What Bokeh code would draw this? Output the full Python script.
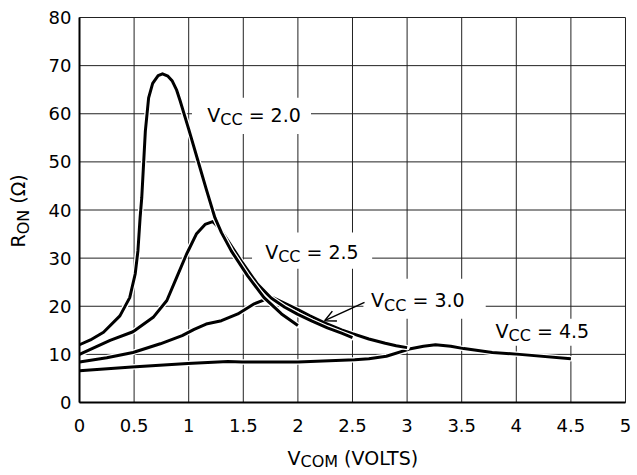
import math
from bokeh.plotting import figure
from bokeh.models import Range1d, FixedTicker, Label, Arrow, OpenHead
from bokeh.embed import file_html
from bokeh.resources import INLINE

# ---- data ----
x_ticks = [0, 0.5, 1, 1.5, 2, 2.5, 3, 3.5, 4, 4.5, 5]
x_tick_labels = ["0", "0.5", "1", "1.5", "2", "2.5", "3", "3.5", "4", "4.5", "5"]
y_ticks = [0, 10, 20, 30, 40, 50, 60, 70, 80]

vcc20_x = [0.0, 0.1, 0.22, 0.37, 0.46, 0.51, 0.535, 0.555, 0.57, 0.603, 0.633, 0.67, 0.72, 0.76,
           0.81, 0.85, 0.89, 0.92, 1.0, 1.08, 1.16, 1.24, 1.30, 1.39, 1.54, 1.69, 1.85, 2.0]
vcc20_y = [12.0, 13.0, 14.6, 18.0, 21.8, 26.7, 31.5, 38.4, 42.5, 56.4, 63.3, 66.3, 67.9, 68.3,
           67.8, 66.8, 64.9, 62.8, 56.8, 50.6, 44.4, 38.4, 35.3, 31.5, 26.3, 21.8, 18.4, 16.0]

vcc25_x = [0.0, 0.28, 0.49, 0.675, 0.80, 0.89, 0.98, 1.07, 1.15, 1.22, 1.29, 1.36, 1.49, 1.63,
           1.755, 1.88, 2.0, 2.13, 2.27, 2.4, 2.5]
vcc25_y = [10.0, 12.9, 14.7, 17.7, 21.2, 26.0, 30.8, 35.0, 37.0, 37.6, 36.0, 33.6, 29.1, 24.6,
           21.7, 19.8, 18.3, 16.9, 15.5, 14.4, 13.5]

vcc30_x = [0.0, 0.25, 0.49, 0.74, 0.94, 1.05, 1.16, 1.30, 1.45, 1.60, 1.72, 1.78, 1.9, 2.0,
           2.11, 2.25, 2.4, 2.5, 2.65, 2.8, 2.9, 3.0]
vcc30_y = [8.4, 9.3, 10.4, 12.2, 13.9, 15.2, 16.3, 17.0, 18.4, 20.5, 21.6, 21.7, 20.4, 19.3,
           18.0, 16.5, 15.1, 14.3, 13.2, 12.3, 11.8, 11.4]

vcc45_x = [0.0, 0.48, 0.99, 1.36, 1.49, 2.0, 2.52, 2.65, 2.81, 3.02, 3.15, 3.26, 3.4, 3.52,
           3.78, 4.03, 4.5]
vcc45_y = [6.6, 7.4, 8.1, 8.5, 8.4, 8.4, 8.9, 9.1, 9.6, 11.1, 11.7, 12.0, 11.7, 11.2,
           10.4, 10.0, 9.1]

series_names = ["2.0", "2.5", "3.0", "4.5"]

FONT = "DejaVu Sans"
MAIN = 19
SUB = 16
BASE_FIX = 7  # label baseline correction (px)
W = {"V": .684, "C": .698, "O": .787, "M": .863, " ": .318, "(": .390, ")": .390,
     "L": .557, "T": .611, "S": .635, "R": .695, "N": .748, "Ω": .764, "=": .838, ".": .318}
for d in "0123456789":
    W[d] = .636


def tw(s, size):
    return sum(W.get(ch, .6) for ch in s) * size


# frame covers the whole canvas so that the axis titles (annotations) are not clipped;
# the axes are fixed at x=0 / y=0 and bounded to the data area.
p = figure(frame_width=631, frame_height=470,
           x_range=Range1d(-0.7051, 5.0733), y_range=Range1d(-14.545, 83.117),
           output_backend="svg", toolbar_location=None,
           min_border_left=2, min_border_right=2, min_border_top=2, min_border_bottom=1)

p.background_fill_color = "white"
p.border_fill_color = "white"
p.outline_line_color = None
p.xgrid.visible = False
p.ygrid.visible = False

for ax in (p.xaxis[0], p.yaxis[0]):
    ax.axis_line_width = 2
    ax.axis_line_color = "black"
    ax.major_tick_in = 0
    ax.major_tick_out = 0
    ax.minor_tick_in = 0
    ax.minor_tick_out = 0
    ax.major_label_text_font = FONT
    ax.major_label_text_font_size = "18px"
    ax.major_label_text_color = "black"
    ax.fixed_location = 0

p.xaxis.bounds = (x_ticks[0], x_ticks[-1])
p.xaxis.ticker = FixedTicker(ticks=x_ticks)
p.xaxis.major_label_overrides = {t: l for t, l in zip(x_ticks, x_tick_labels)}
p.xaxis.major_label_standoff = 16
p.yaxis.bounds = (y_ticks[0], y_ticks[-1])
p.yaxis.ticker = FixedTicker(ticks=y_ticks)
p.yaxis.major_label_standoff = 8

# grid lines over the data area (incl. top and right borders)
p.segment(x0=x_ticks, y0=[y_ticks[0]] * len(x_ticks), x1=x_ticks, y1=[y_ticks[-1]] * len(x_ticks),
          line_color="#222222", line_width=1)
p.segment(x0=[x_ticks[0]] * len(y_ticks), y0=y_ticks, x1=[x_ticks[-1]] * len(y_ticks), y1=y_ticks,
          line_color="#222222", line_width=1)

# white boxes behind the curve labels (cut the grid lines)
box_l = [1.03, 1.58, 2.60, 3.76]
box_r = [2.12, 2.68, 3.72, 4.76]
box_t = [63.3, 35.3, 25.7, 17.4]
box_b = [55.8, 27.8, 17.4, 11.8]
p.quad(left=box_l, right=box_r, top=box_t, bottom=box_b,
       fill_color="white", line_color=None)

# curves (white casing then black line)
curves = [(vcc45_x, vcc45_y), (vcc30_x, vcc30_y), (vcc25_x, vcc25_y), (vcc20_x, vcc20_y)]
for cx, cy in curves:
    p.line(cx, cy, line_color="white", line_width=5.5, line_join="round", line_cap="round")
    p.line(cx, cy, line_color="black", line_width=3, line_join="round", line_cap="butt")


def add_pieces(x, y, pieces, x0=0.0, y0=0.0, angle=0.0):
    """pieces: (text, size, shift_down, leading_gap_px)"""
    off = 0.0
    for txt, size, shift, gap in pieces:
        off += gap
        if angle == 0.0:
            xo, yo = x0 + off, y0 - shift + BASE_FIX
        else:
            xo, yo = x0 + shift - BASE_FIX, y0 + off
        p.add_layout(Label(x=x, y=y, x_offset=xo, y_offset=yo, text=txt, angle=angle,
                           text_font=FONT, text_font_size=f"{size}px", text_color="black",
                           text_align="left", text_baseline="alphabetic"))
        off += tw(txt, size)


label_x = [1.17, 1.70, 2.67, 3.81]
label_y = [58.3, 29.9, 19.8, 13.5]
for lx, ly, nm in zip(label_x, label_y, series_names):
    add_pieces(lx, ly, [("V", MAIN, 0, 0), ("CC", SUB, 5, 0), ("= " + nm, MAIN, 0, tw(" ", MAIN))])

p.add_layout(Arrow(x_start=2.61, y_start=20.8, x_end=2.245, y_end=17.0,
                   line_width=1.5, line_color="black",
                   end=OpenHead(size=11, line_width=1.5, line_color="black")))

# x-axis title: V_COM (VOLTS)
add_pieces(0, 0, [("V", MAIN, 0, 0), ("COM", SUB, 4, 0), ("(VOLTS)", MAIN, 0, tw(" ", MAIN))],
           x0=208.0, y0=-62.0)

# y-axis title: R_ON (Ω), rotated
add_pieces(0, 0, [("R", MAIN, 0, 0), ("ON", SUB, 5, 0), ("(Ω)", MAIN, 0, tw(" ", MAIN))],
           x0=-54.0, y0=155.0, angle=math.pi / 2)

open("out.html", "w").write(file_html(p, INLINE))
